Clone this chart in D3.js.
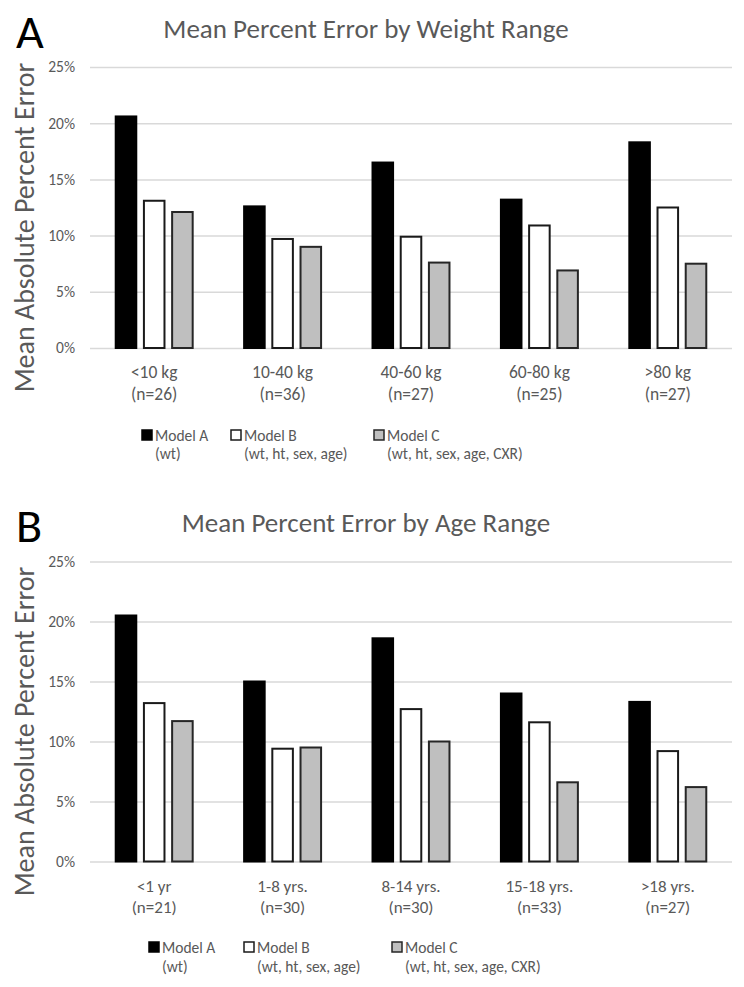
<!DOCTYPE html>
<html><head><meta charset="utf-8">
<script src="https://cdn.jsdelivr.net/npm/d3@7"></script>
<style>
html,body{margin:0;padding:0;background:#fff;}
svg{display:block;}
</style></head>
<body>
<svg id="chart" width="744" height="987"></svg>
<script>
// ---- data ----
const seriesNames = ["Model A", "Model B", "Model C"];
const seriesSub = ["(wt)", "(wt, ht, sex, age)", "(wt, ht, sex, age, CXR)"];
const weightCategories = ["<10 kg", "10-40 kg", "40-60 kg", "60-80 kg", ">80 kg"];
const weightN = ["(n=26)", "(n=36)", "(n=27)", "(n=25)", "(n=27)"];
const weightModelA = [20.6, 12.6, 16.5, 13.2, 18.3];
const weightModelB = [13.1, 9.7, 9.9, 10.9, 12.5];
const weightModelC = [12.1, 9.0, 7.6, 6.9, 7.5];
const ageCategories = ["<1 yr", "1-8 yrs.", "8-14 yrs.", "15-18 yrs.", ">18 yrs."];
const ageN = ["(n=21)", "(n=30)", "(n=30)", "(n=33)", "(n=27)"];
const ageModelA = [20.5, 15.0, 18.6, 14.0, 13.3];
const ageModelB = [13.2, 9.4, 12.7, 11.6, 9.2];
const ageModelC = [11.7, 9.5, 10.0, 6.6, 6.2];
const yTicks = [0, 5, 10, 15, 20, 25];

const FONT = "Carlito, Calibri, Lato, 'Open Sans', sans-serif";
const GREY = "#595959";
const fills = ["#000000", "#ffffff", "#bfbfbf"];
const strokes = ["#000000", "#1a1a1a", "#262626"];

const svg = d3.select("#chart");

function panel(opt) {
  const g = svg.append("g");
  const x0 = d3.scaleBand().domain(opt.cats).range([90, 732]).paddingInner(0.385).paddingOuter(0.1925);
  const x1 = d3.scaleBand().domain(seriesNames).range([0, x0.bandwidth()]).paddingInner(0.2);
  const y = d3.scaleLinear().domain([0, 25]).range([opt.y0, opt.y25]);

  // letter
  g.append("text").attr("x", 16).attr("y", opt.letterY).text(opt.letter)
    .attr("font-family", FONT).attr("font-size", 48).attr("fill", "#000");
  // title
  g.append("text").attr("x", 366).attr("y", opt.titleY).attr("text-anchor", "middle")
    .text(opt.title).attr("font-family", FONT).attr("font-size", 27).attr("fill", GREY);

  // gridlines via axis
  const yAxis = d3.axisLeft(y).tickValues(yTicks).tickFormat(d => d + "%")
    .tickSize(-(732 - 90)).tickPadding(15);
  const ga = g.append("g").attr("transform", "translate(90,0)").call(yAxis);
  ga.select(".domain").remove();
  ga.selectAll(".tick line").attr("stroke", "#d9d9d9").attr("stroke-width", 1.5);
  ga.selectAll(".tick text").attr("font-family", FONT).attr("font-size", 15.5).attr("fill", GREY);

  // y axis title
  g.append("text").attr("transform", `translate(34,${(opt.y0 + opt.y25) / 2 + 20}) rotate(-90)`)
    .attr("text-anchor", "middle").text("Mean Absolute Percent Error")
    .attr("font-family", FONT).attr("font-size", 28).attr("fill", GREY);

  // bars
  const rows = opt.cats.map((c, i) => ({cat: c, vals: opt.series.map(s => s[i])}));
  const grp = g.selectAll(".grp").data(rows).join("g")
    .attr("transform", d => `translate(${x0(d.cat)},0)`);
  grp.selectAll("rect").data(d => d.vals.map((v, k) => ({v, k})))
    .join("rect")
    .attr("x", d => x1(seriesNames[d.k]) + 1)
    .attr("width", x1.bandwidth() - 2)
    .attr("y", d => y(d.v))
    .attr("height", d => y(0) - y(d.v))
    .attr("fill", d => fills[d.k])
    .attr("stroke", d => strokes[d.k])
    .attr("stroke-width", 2);

  // x labels
  const xl = g.append("g");
  opt.cats.forEach((c, i) => {
    const cx = x0(c) + x0.bandwidth() / 2;
    xl.append("text").attr("x", cx).attr("y", opt.y0 + opt.lab1).attr("text-anchor", "middle")
      .text(c).attr("font-family", FONT).attr("font-size", opt.labSize).attr("fill", GREY);
    xl.append("text").attr("x", cx).attr("y", opt.y0 + opt.lab2).attr("text-anchor", "middle")
      .text(opt.ns[i]).attr("font-family", FONT).attr("font-size", opt.labSize).attr("fill", GREY);
  });

  // legend
  const lg = g.append("g");
  seriesNames.forEach((s, k) => {
    const lx = opt.legX[k];
    lg.append("rect").attr("x", lx).attr("y", opt.legY - 11).attr("width", 10).attr("height", 10)
      .attr("fill", fills[k]).attr("stroke", strokes[k]).attr("stroke-width", 1.5);
    lg.append("text").attr("x", lx + 13).attr("y", opt.legY).text(s)
      .attr("font-family", FONT).attr("font-size", 15.5).attr("fill", GREY);
    lg.append("text").attr("x", lx + 13).attr("y", opt.legY + opt.legGap).text(seriesSub[k])
      .attr("font-family", FONT).attr("font-size", 15.5).attr("fill", GREY);
  });
}

panel({
  letter: "A", letterY: 48, title: "Mean Percent Error by Weight Range", titleY: 38,
  cats: weightCategories, ns: weightN, series: [weightModelA, weightModelB, weightModelC],
  y0: 348, y25: 67, lab1: 30, lab2: 52, labSize: 17.5, legX: [142, 231, 374], legY: 441, legGap: 18
});
panel({
  letter: "B", letterY: 542, title: "Mean Percent Error by Age Range", titleY: 532,
  cats: ageCategories, ns: ageN, series: [ageModelA, ageModelB, ageModelC],
  y0: 861.5, y25: 561.5, lab1: 30.5, lab2: 51.5, labSize: 17, legX: [149, 244, 392], legY: 953, legGap: 19
});
</script>
</body></html>
